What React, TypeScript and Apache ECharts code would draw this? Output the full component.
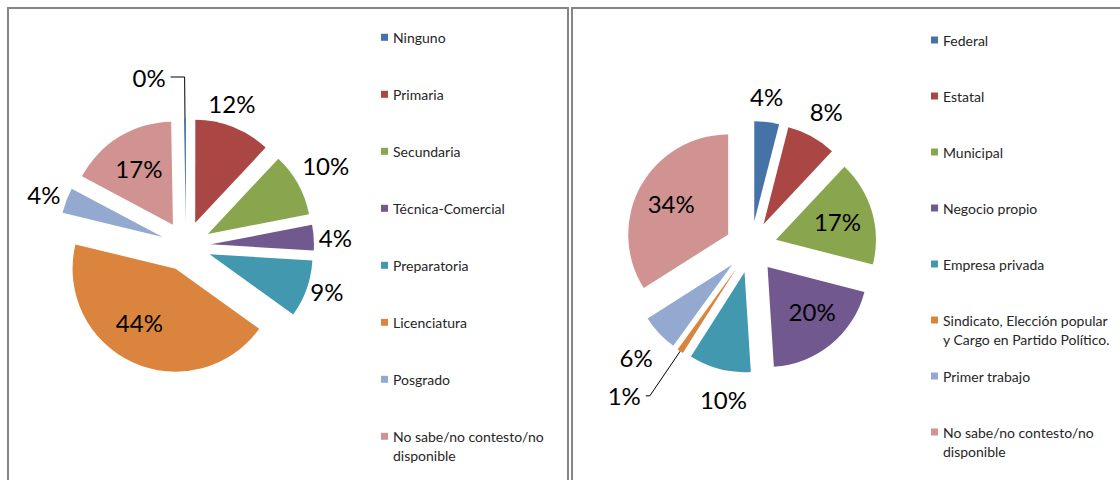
import React, { useEffect, useRef } from "react";
import * as echarts from "echarts";

// ---- Data ----
const educationNames = [
  "Ninguno",
  "Primaria",
  "Secundaria",
  "Técnica-Comercial",
  "Preparatoria",
  "Licenciatura",
  "Posgrado",
  "No sabe/no contesto/no disponible",
];
const educationValues = [0.3, 12, 10, 4, 9, 44, 4, 17];

const jobNames = [
  "Federal",
  "Estatal",
  "Municipal",
  "Negocio propio",
  "Empresa privada",
  "Sindicato, Elección popular y Cargo en Partido Político.",
  "Primer trabajo",
  "No sabe/no contesto/no disponible",
];
const jobValues = [4, 8, 17, 20, 10, 1, 6, 34];

const sliceColors = [
  "#4572A7",
  "#AA4643",
  "#89A54E",
  "#71588F",
  "#4198AF",
  "#DB843D",
  "#93A9CF",
  "#D19392",
];

// legend line wrapping (display only); leading blank line keeps the first
// text line aligned with the legend square
const wrapMap: Record<string, string> = {
  "No sabe/no contesto/no disponible": "\nNo sabe/no contesto/no\ndisponible",
  "Sindicato, Elección popular y Cargo en Partido Político.":
    "\nSindicato, Elección popular\ny Cargo en Partido Político.",
};

// label placement tuning (labelLine length / length2 / visible leader)
const leftLabelTune = [
  { L: 41, L2: 14, line: true },
  { L: 25, L2: -39, line: false },
  { L: 39, L2: -35, line: false },
  { L: 4, L2: -4, line: false },
  { L: 7, L2: -8, line: false },
  { L: -44, L2: -17, line: false },
  { L: 16, L2: -14, line: false },
  { L: -37, L2: -29, line: false },
];
const rightLabelTune = [
  { L: 25.5, L2: -25, line: false },
  { L: 29, L2: -21, line: false },
  { L: -36, L2: -28.5, line: false },
  { L: -42, L2: -21, line: false },
  { L: 31, L2: -40, line: false },
  { L: 54, L2: 4, line: true },
  { L: 35, L2: -24, line: false },
  { L: -35, L2: -28.5, line: false },
];

const FONT = "Lato, 'Noto Sans', sans-serif";

function buildData(names: string[], values: number[], tune: any[]) {
  return names.map((n, i) => ({
    name: n,
    value: values[i],
    selected: true,
    itemStyle: { color: sliceColors[i], borderWidth: 0 },
    labelLine: {
      show: tune[i].line,
      length: tune[i].L,
      length2: tune[i].L2,
    },
  }));
}

function pieSeries(
  center: number[],
  radius: number,
  offset: number,
  startAngle: number,
  data: any[]
) {
  return {
    type: "pie",
    center,
    radius,
    startAngle,
    clockwise: true,
    selectedMode: "multiple",
    selectedOffset: offset,
    avoidLabelOverlap: false,
    itemStyle: { borderWidth: 0 },
    label: {
      show: true,
      position: "outside",
      formatter: (p: any) => `${Math.round(p.value)}%`,
      fontSize: 24,
      fontFamily: FONT,
      color: "#000",
    },
    labelLine: {
      smooth: false,
      lineStyle: { color: "#000", width: 1 },
    },
    emphasis: { disabled: true },
    select: { itemStyle: { borderWidth: 0 } },
    data,
  };
}

function legendFor(names: string[], left: number, top: number, gap: number) {
  return {
    orient: "vertical",
    left,
    top,
    padding: 0,
    itemWidth: 7,
    itemHeight: 7,
    itemGap: gap,
    icon: "rect",
    selectedMode: false,
    formatter: (name: string) => wrapMap[name] || name,
    textStyle: {
      fontSize: 14,
      fontFamily: FONT,
      color: "#262626",
      lineHeight: 19,
    },
    data: names.map((n) => ({
      name: n,
      textStyle: { padding: wrapMap[n] ? [0, 0, 0, 0] : [19, 0, 19, 0] },
    })),
  };
}

export default function App() {
  const ref = useRef<HTMLDivElement>(null);

  useEffect(() => {
    if (!ref.current) return;
    const chart = echarts.init(ref.current, undefined, { renderer: "svg" });
    const border = { fill: "none", stroke: "#868686", lineWidth: 2 };
    chart.setOption({
      animation: false,
      backgroundColor: "#fff",
      graphic: [
        {
          type: "rect",
          silent: true,
          shape: { x: 8, y: 8, width: 560, height: 490 },
          style: border,
        },
        {
          type: "rect",
          silent: true,
          shape: { x: 572, y: 8, width: 560, height: 490 },
          style: border,
        },
      ],
      legend: [
        legendFor(educationNames, 381, 8.8, 0),
        legendFor(jobNames, 931, 11.5, -1),
      ],
      series: [
        pieSeries(
          [186, 246],
          103,
          25,
          91,
          buildData(educationNames, educationValues, leftLabelTune)
        ),
        pieSeries(
          [751, 247],
          100,
          26,
          90,
          buildData(jobNames, jobValues, rightLabelTune)
        ),
      ],
    });
    return () => chart.dispose();
  }, []);

  return (
    <div
      ref={ref}
      style={{ position: "fixed", left: 0, top: 0, width: 1120, height: 480 }}
    />
  );
}
